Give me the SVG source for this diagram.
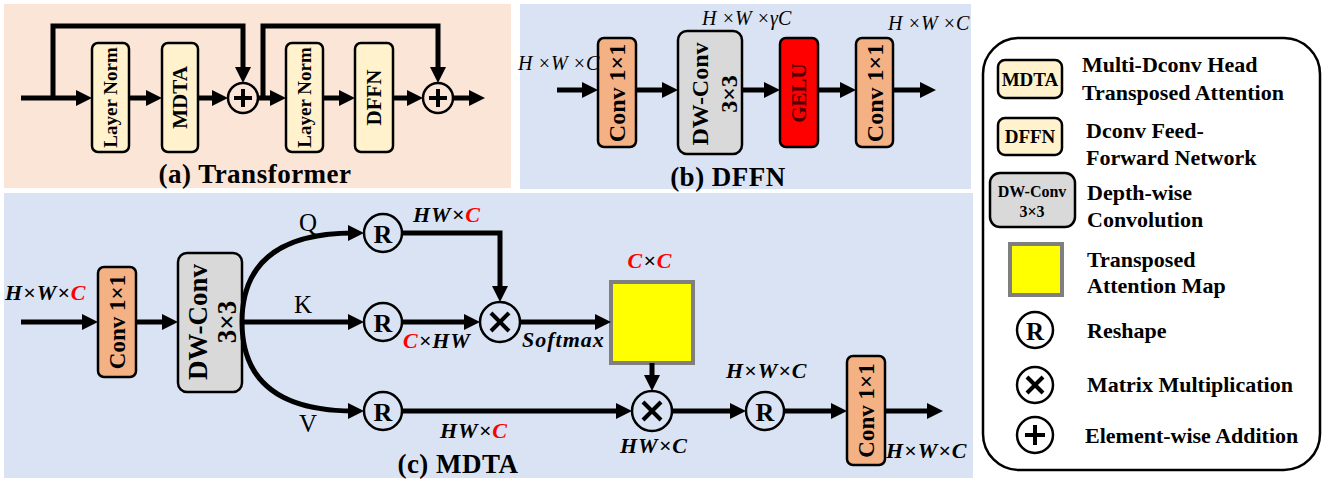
<svg xmlns="http://www.w3.org/2000/svg" width="1326" height="485" viewBox="0 0 1326 485">
<style>
text{font-family:'Liberation Serif','Times New Roman',serif;fill:#000}
.b{font-weight:bold}
.bi{font-weight:bold;font-style:italic}
.i{font-style:italic}
.cap{font-weight:bold;font-size:27px;text-anchor:middle}
.box{stroke:#000;stroke-width:2.5}
.cream{fill:#FFF2CC}
.conv{fill:#F4B183}
.dw{fill:#D9D9D9}
.gelu{fill:#FF0000}
.vt{text-anchor:middle;dominant-baseline:central;font-weight:bold}
.circ{fill:none;stroke:#000;stroke-width:2.5}
.sym{stroke:#000;stroke-width:4;stroke-linecap:butt}
.ln{fill:none;stroke:#000;stroke-width:5}
.lnA{fill:none;stroke:#000;stroke-width:5;marker-end:url(#ah)}
.lab{font-weight:bold;font-style:italic;font-size:22px;letter-spacing:1px}
.red{fill:#FF0000}
.leg{font-weight:bold;font-size:22px}
.yel{fill:#FFFF00;stroke:#7F7F7F;stroke-width:4}
</style>
<defs>
<marker id="ah" markerWidth="16" markerHeight="16" refX="6" refY="8" orient="auto" markerUnits="userSpaceOnUse"><path d="M0,0 L16,8 L0,16 z" fill="#000"/></marker>
</defs>

<!-- panel backgrounds -->
<rect x="4" y="4" width="507" height="184" fill="#FBE5D6"/>
<rect x="520" y="4" width="451" height="185" fill="#DAE3F3"/>
<rect x="4" y="193" width="969" height="285" fill="#DAE3F3"/>

<!-- (a) Transformer -->
<g id="a-ln1"><rect class="box cream" x="92" y="43" width="37" height="109" rx="6"/><text class="vt" font-size="19" transform="translate(110.5,97.5) rotate(-90)">Layer Norm</text></g>
<g id="a-mdta"><rect class="box cream" x="162" y="43" width="36" height="109" rx="6"/><text class="vt" font-size="21" transform="translate(180,97.5) rotate(-90)">MDTA</text></g>
<g id="a-plus1"><circle class="circ" cx="243" cy="98" r="15"/><line class="sym" x1="234" y1="98" x2="252" y2="98"/><line class="sym" x1="243" y1="89" x2="243" y2="107"/></g>
<g id="a-ln2"><rect class="box cream" x="286" y="43" width="37" height="109" rx="6"/><text class="vt" font-size="19" transform="translate(304.5,97.5) rotate(-90)">Layer Norm</text></g>
<g id="a-dffn"><rect class="box cream" x="355" y="43" width="38" height="109" rx="6"/><text class="vt" font-size="21" transform="translate(374,97.5) rotate(-90)">DFFN</text></g>
<g id="a-plus2"><circle class="circ" cx="438" cy="98" r="15"/><line class="sym" x1="429" y1="98" x2="447" y2="98"/><line class="sym" x1="438" y1="89" x2="438" y2="107"/></g>
<g id="a-caption"><text class="cap" x="255" y="183" letter-spacing="0.5">(a) Transformer</text></g>

<!-- (b) DFFN -->
<g id="b-conv1"><rect class="box conv" x="598" y="38" width="38" height="109" rx="6"/><text class="vt" font-size="24" transform="translate(617,93) rotate(-90)">Conv 1×1</text></g>
<g id="b-dw"><rect class="box dw" x="678" y="31" width="64" height="123" rx="9"/><text class="vt" font-size="24" transform="translate(700,94) rotate(-90)">DW-Conv</text><text class="vt" font-size="24" transform="translate(729,94) rotate(-90)">3×3</text></g>
<g id="b-gelu"><rect class="box gelu" x="780" y="38" width="38" height="109" rx="6"/><text class="vt" font-size="21" fill="#4A0000" style="fill:#4A0000" transform="translate(799,93) rotate(-90)">GELU</text></g>
<g id="b-conv2"><rect class="box conv" x="856" y="38" width="37" height="109" rx="6"/><text class="vt" font-size="24" transform="translate(874.5,93) rotate(-90)">Conv 1×1</text></g>
<g id="b-labels">
<text class="i" font-size="20" x="518" y="70">H ×W ×C</text>
<text class="i" font-size="20" x="702" y="25">H ×W ×γC</text>
<text class="i" font-size="20" x="888" y="30">H ×W ×C</text>
</g>
<g id="b-caption"><text class="cap" x="728" y="186" letter-spacing="0.5">(b) DFFN</text></g>

<!-- (c) MDTA -->
<g id="c-conv1"><rect class="box conv" x="98" y="267" width="38" height="110" rx="6"/><text class="vt" font-size="23" transform="translate(117,322) rotate(-90)">Conv 1×1</text></g>
<g id="c-dw"><rect class="box dw" x="178" y="253" width="64" height="139" rx="9"/><text class="vt" font-size="27" transform="translate(198,322) rotate(-90)">DW-Conv</text><text class="vt" font-size="27" transform="translate(227,322) rotate(-90)">3×3</text></g>
<g id="c-rq"><circle class="circ" cx="383" cy="233" r="19"/><text class="vt" font-size="26" x="383" y="234">R</text></g>
<g id="c-rk"><circle class="circ" cx="383" cy="322" r="19"/><text class="vt" font-size="26" x="383" y="323">R</text></g>
<g id="c-rv"><circle class="circ" cx="383" cy="411" r="19"/><text class="vt" font-size="26" x="383" y="412">R</text></g>
<g id="c-mul1"><circle class="circ" cx="500" cy="322" r="20"/><line class="sym" x1="491" y1="313" x2="509" y2="331"/><line class="sym" x1="509" y1="313" x2="491" y2="331"/></g>
<g id="c-attn"><rect class="yel" x="611" y="282" width="82" height="81"/></g>
<g id="c-mul2"><circle class="circ" cx="652" cy="411" r="20"/><line class="sym" x1="643" y1="402" x2="661" y2="420"/><line class="sym" x1="661" y1="402" x2="643" y2="420"/></g>
<g id="c-r3"><circle class="circ" cx="765" cy="411" r="19"/><text class="vt" font-size="26" x="765" y="412">R</text></g>
<g id="c-conv2"><rect class="box conv" x="847" y="356" width="38" height="109" rx="6"/><text class="vt" font-size="23" transform="translate(866,410.5) rotate(-90)">Conv 1×1</text></g>
<g id="c-labels">
<text class="lab" x="5" y="300">H×W×<tspan class="red">C</tspan></text>
<text font-size="25" x="308" y="231" text-anchor="middle">Q</text>
<text font-size="25" x="303" y="313" text-anchor="middle">K</text>
<text font-size="25" x="308" y="432" text-anchor="middle">V</text>
<text class="lab" x="413" y="222">HW×<tspan class="red">C</tspan></text>
<text class="lab" x="403" y="348"><tspan class="red">C</tspan>×HW</text>
<text class="lab" x="522" y="347">Softmax</text>
<text class="lab" x="650" y="268" text-anchor="middle"><tspan class="red">C</tspan>×<tspan class="red">C</tspan></text>
<text class="lab" x="440" y="438">HW×<tspan class="red">C</tspan></text>
<text class="lab" x="620" y="453">HW×C</text>
<text class="lab" x="726" y="378">H×W×C</text>
<text class="lab" x="886" y="458">H×W×C</text>
</g>
<g id="c-caption"><text class="cap" x="458" y="473" letter-spacing="0.5">(c) MDTA</text></g>

<!-- connectors -->
<g id="connectors">
<path class="lnA" d="M21,98 H82"/>
<path class="lnA" d="M53,98 V26 H243 V73"/>
<path class="lnA" d="M129,98 H152"/>
<path class="lnA" d="M198,98 H218"/>
<path class="lnA" d="M258,98 H276"/>
<path class="lnA" d="M263,98 V26 H438 V73"/>
<path class="lnA" d="M323,98 H345"/>
<path class="lnA" d="M393,98 H413"/>
<path class="lnA" d="M453,98 H475"/>

<path class="lnA" d="M557,90 H588"/>
<path class="lnA" d="M636,90 H668"/>
<path class="lnA" d="M742,90 H770"/>
<path class="lnA" d="M818,90 H846"/>
<path class="lnA" d="M893,90 H926"/>

<path class="lnA" d="M21,322 H88"/>
<path class="lnA" d="M136,322 H168"/>
<path class="lnA" d="M242,322 C242,258 285,233 354,233"/>
<path class="lnA" d="M242,322 H354"/>
<path class="lnA" d="M242,322 C242,386 285,411 354,411"/>
<path class="lnA" d="M402,233 H500 V292"/>
<path class="lnA" d="M402,322 H470"/>
<path class="lnA" d="M520,322 H601"/>
<path class="lnA" d="M652,363 V381"/>
<path class="lnA" d="M402,411 H622"/>
<path class="lnA" d="M672,411 H736"/>
<path class="lnA" d="M784,411 H837"/>
<path class="lnA" d="M885,411 H933"/>
</g>

<!-- legend -->
<g id="legend">
<rect x="983" y="38" width="337" height="432" rx="36" fill="#FFFFFF" stroke="#000" stroke-width="2.5"/>
<g id="leg-mdta"><rect class="box cream" x="998" y="60" width="64" height="38" rx="7"/><text class="b" font-size="19" x="1030" y="86" text-anchor="middle">MDTA</text>
<text class="leg" x="1082" y="72">Multi-Dconv Head</text><text class="leg" x="1082" y="100">Transposed Attention</text></g>
<g id="leg-dffn"><rect class="box cream" x="998" y="118" width="64" height="37" rx="7"/><text class="b" font-size="19" x="1030" y="143" text-anchor="middle">DFFN</text>
<text class="leg" x="1086" y="138">Dconv Feed-</text><text class="leg" x="1086" y="165">Forward Network</text></g>
<g id="leg-dw"><rect class="box dw" x="990" y="173" width="85" height="54" rx="10"/><text class="b" font-size="16" x="1032" y="197" text-anchor="middle">DW-Conv</text><text class="b" font-size="16" x="1032" y="217" text-anchor="middle">3×3</text>
<text class="leg" x="1087" y="200">Depth-wise</text><text class="leg" x="1087" y="227">Convolution</text></g>
<g id="leg-attn"><rect class="yel" x="1010" y="244" width="52" height="51"/>
<text class="leg" x="1087" y="267">Transposed</text><text class="leg" x="1087" y="293">Attention Map</text></g>
<g id="leg-r"><circle class="circ" cx="1035" cy="330" r="18"/><text class="vt" font-size="25" x="1035" y="331">R</text><text class="leg" x="1087" y="338">Reshape</text></g>
<g id="leg-mul"><circle class="circ" cx="1035" cy="385" r="18"/><line class="sym" x1="1027" y1="377" x2="1043" y2="393"/><line class="sym" x1="1043" y1="377" x2="1027" y2="393"/><text class="leg" x="1087" y="392">Matrix Multiplication</text></g>
<g id="leg-add"><circle class="circ" cx="1035" cy="435" r="18"/><line class="sym" x1="1025" y1="435" x2="1045" y2="435"/><line class="sym" x1="1035" y1="425" x2="1035" y2="445"/><text class="leg" x="1085" y="443">Element-wise Addition</text></g>
</g>
</svg>
